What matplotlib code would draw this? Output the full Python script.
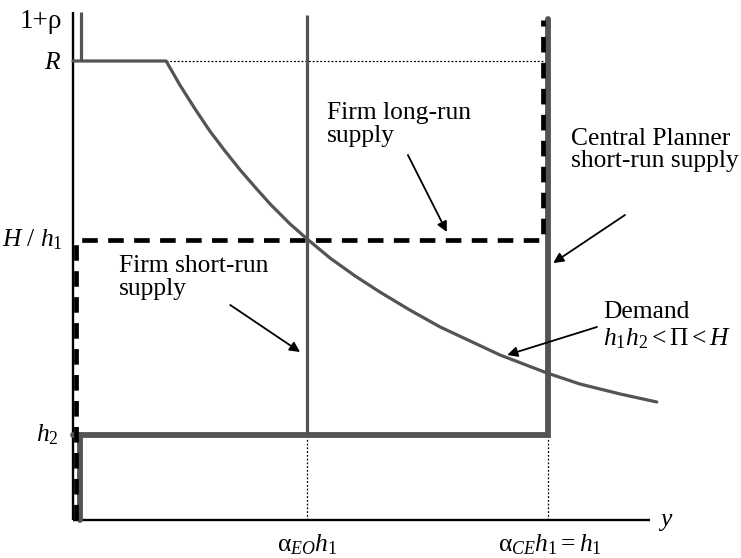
import matplotlib
matplotlib.use('Agg')
import matplotlib.pyplot as plt

plt.rcParams['font.family'] = ['Liberation Serif', 'DejaVu Serif']
plt.rcParams['mathtext.fontset'] = 'custom'
plt.rcParams['mathtext.rm'] = 'Liberation Serif'
plt.rcParams['mathtext.it'] = 'Liberation Serif:italic'

# levels on the price axis (1+rho) and output axis (y), h1 = 1
R = 4.59
H_over_h1 = 2.80
h2 = 0.85
y_top = 5.08
alpha_EO_h1 = 0.493
h1 = 1.0
x_end = 1.215

# demand curve (y, 1+rho)
demand_x = [0.196, 0.225, 0.257, 0.288, 0.320, 0.352, 0.383, 0.415, 0.457, 0.493, 0.541,
            0.594, 0.646, 0.709, 0.773, 0.836, 0.899, 0.998, 1.067, 1.152, 1.229]
demand_p = [4.59, 4.35, 4.11, 3.89, 3.69, 3.50, 3.33, 3.16, 2.96, 2.81, 2.62,
            2.44, 2.28, 2.10, 1.93, 1.79, 1.65, 1.47, 1.36, 1.26, 1.18]

gray = '#545454'
fs = 18.4

fig = plt.figure(figsize=(7.41, 5.58), dpi=100)
ax = fig.add_axes([0, 0, 1, 1])
ax.set_xlim(-0.1537, 1.4063)
ax.set_ylim(-0.38, 5.20)
ax.axis('off')

# axes
ax.plot([0, 0], [0, y_top], color='black', lw=1.7, solid_capstyle='butt')
ax.plot([0, x_end], [0, 0], color='black', lw=1.7, solid_capstyle='butt')

# dotted guides
ax.plot([demand_x[0], h1 - 0.011], [R, R], color='black', lw=0.9, ls=(0, (1.5, 1.5)))
ax.plot([alpha_EO_h1, alpha_EO_h1], [0, h2], color='black', lw=0.9, ls=(0, (1.5, 1.5)))
ax.plot([h1, h1], [0, h2], color='black', lw=0.9, ls=(0, (1.5, 1.5)))

# central planner short-run supply (thick gray)
ax.plot([0, h1, h1], [h2, h2, 5.01], color=gray, lw=4.2,
        solid_capstyle='round', solid_joinstyle='miter')
ax.plot([0.015, 0.015], [0, h2], color=gray, lw=4.2, solid_capstyle='round')

# firm long-run supply (black dashed)
ax.plot([0.007, 0.007, h1 - 0.011, h1 - 0.011], [0, H_over_h1, H_over_h1, 5.0],
        color='black', lw=3.4, ls=(0, (3.3, 2.2)), solid_joinstyle='miter')

# firm short-run supply
ax.plot([alpha_EO_h1, alpha_EO_h1], [h2, 5.05], color=gray, lw=2.3, solid_capstyle='butt')

# demand
ax.plot([0.017, 0.017], [y_top, R], color=gray, lw=2.3, solid_capstyle='butt')
ax.plot([0] + demand_x, [R] + demand_p, color=gray, lw=2.3,
        solid_capstyle='round', solid_joinstyle='round')

# axis labels
ax.text(-0.023, 4.98, '1+ρ', fontsize=19.5, ha='right', va='center')
ax.text(-0.025, R - 0.02, '$R$', fontsize=fs, ha='right', va='center')
ax.text(-0.021, H_over_h1, r'$H\ /\ h_1$', fontsize=fs, ha='right', va='center')
ax.text(-0.03, h2, '$h_2$', fontsize=fs, ha='right', va='center')
ax.text(alpha_EO_h1, -0.12, r'$\mathrm{α}_{EO}h_1$', fontsize=fs, ha='center', va='top')
ax.text(h1 + 0.004, -0.12, r'$\mathrm{α}_{CE}h_1 = h_1$', fontsize=fs, ha='center', va='top')
ax.text(1.232, -0.02, '$y$', fontsize=fs, ha='left', va='center')

# annotations
ax.text(0.535, 3.78, 'Firm long-run\nsupply', fontsize=fs, ha='left', va='baseline', linespacing=1.05)
ax.text(1.048, 3.53, 'Central Planner\nshort-run supply', fontsize=fs, ha='left', va='baseline', linespacing=1.0)
ax.text(0.097, 2.25, 'Firm short-run\nsupply', fontsize=fs, ha='left', va='baseline', linespacing=1.05)
ax.text(1.116, 2.02, 'Demand', fontsize=fs, ha='left', va='baseline')
ax.text(1.116, 1.75, r'$h_1h_2 < \Pi < H$', fontsize=fs, ha='left', va='baseline')

arrow = dict(arrowstyle='-|>', color='black', lw=1.3, mutation_scale=15, shrinkA=0, shrinkB=0)
ax.annotate('', xy=(0.787, 2.88), xytext=(0.705, 3.65), arrowprops=arrow)
ax.annotate('', xy=(1.011, 2.57), xytext=(1.162, 3.05), arrowprops=arrow)
ax.annotate('', xy=(0.478, 1.68), xytext=(0.331, 2.15), arrowprops=arrow)
ax.annotate('', xy=(0.914, 1.65), xytext=(1.103, 1.93), arrowprops=arrow)

plt.savefig('out.png', dpi=100)
